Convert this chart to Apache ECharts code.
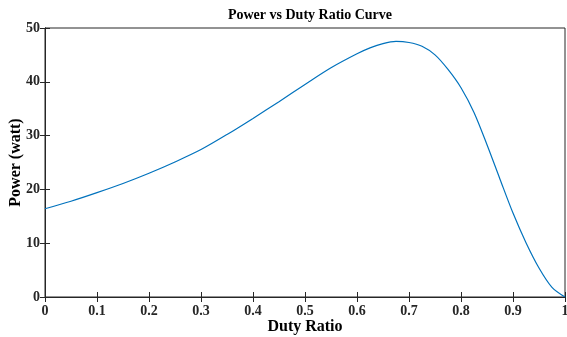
<!DOCTYPE html>
<html>
<head>
<meta charset="utf-8">
<script src="https://cdn.jsdelivr.net/npm/echarts@6/dist/echarts.min.js"></script>
<style>
  html, body { margin: 0; padding: 0; background: #fff; }
  #chart { width: 567px; height: 337px; }
</style>
</head>
<body>
<div id="chart"></div>
<script>
// duty ratio samples and power
const dutyRatio = [0, 0.05, 0.1, 0.15, 0.2, 0.25, 0.3, 0.35, 0.4, 0.45, 0.5, 0.55, 0.6,
  0.625, 0.65, 0.675, 0.7, 0.725, 0.75, 0.775, 0.8, 0.825, 0.85, 0.875, 0.9,
  0.925, 0.95, 0.975, 1];
const power = [16.4, 17.8, 19.4, 21.1, 23.0, 25.1, 27.4, 30.2, 33.2, 36.3, 39.5, 42.6, 45.2,
  46.3, 47.1, 47.5, 47.3, 46.6, 45.0, 42.3, 38.9, 34.3, 28.3, 21.9, 15.6,
  10.1, 5.4, 1.8, 0];

const font = "'Liberation Serif', 'DejaVu Serif', serif";
const ink = "#262626";

const chart = echarts.init(document.getElementById("chart"));
const option = {
  animation: false,
  title: {
    text: "Power vs Duty Ratio Curve",
    left: 305,
    textAlign: "center",
    top: 3,
    textStyle: { fontFamily: font, fontWeight: "bold", fontSize: 14, color: "#000" }
  },
  grid: {
    left: 45, right: 2, top: 28, bottom: 40,
    outerBoundsMode: "none", containLabel: false,
    show: true, borderColor: ink, borderWidth: 1
  },
  xAxis: [
    {
      type: "value", min: 0, max: 1, interval: 0.1,
      name: "Duty Ratio", nameLocation: "middle", nameGap: 22, nameMoveOverlap: false,
      nameTextStyle: { fontFamily: font, fontWeight: "bold", fontSize: 16, color: "#000" },
      axisLine: { lineStyle: { color: ink } },
      axisTick: { inside: true, length: 5, lineStyle: { color: ink } },
      axisLabel: { fontFamily: font, fontWeight: "bold", fontSize: 14, color: ink, margin: 7 },
      splitLine: { show: false }
    },
    {
      type: "value", min: 0, max: 1, interval: 0.1, position: "top",
      axisLine: { lineStyle: { color: ink } },
      axisTick: { inside: true, length: 5, lineStyle: { color: ink } },
      axisLabel: { show: false }, splitLine: { show: false }
    }
  ],
  yAxis: [
    {
      type: "value", min: 0, max: 50, interval: 10,
      name: "Power (watt)", nameLocation: "middle", nameGap: 21, nameMoveOverlap: false,
      nameTextStyle: { fontFamily: font, fontWeight: "bold", fontSize: 16, color: "#000" },
      axisLine: { show: true, lineStyle: { color: ink } },
      axisTick: { show: true, inside: true, length: 5, lineStyle: { color: ink } },
      axisLabel: { fontFamily: font, fontWeight: "bold", fontSize: 14, color: ink, margin: 5 },
      splitLine: { show: false }
    },
    {
      type: "value", min: 0, max: 50, interval: 10, position: "right",
      axisLine: { show: true, lineStyle: { color: ink } },
      axisTick: { show: true, inside: true, length: 5, lineStyle: { color: ink } },
      axisLabel: { show: false }, splitLine: { show: false }
    }
  ],
  series: [
    {
      type: "line",
      smooth: 0.3,
      showSymbol: false,
      lineStyle: { color: "#0072BD", width: 1.2 },
      data: dutyRatio.map((d, i) => [d, power[i]])
    }
  ]
};
chart.setOption(option);
window.addEventListener("resize", function() {
  chart.resize();
});
</script>
</body>
</html>
